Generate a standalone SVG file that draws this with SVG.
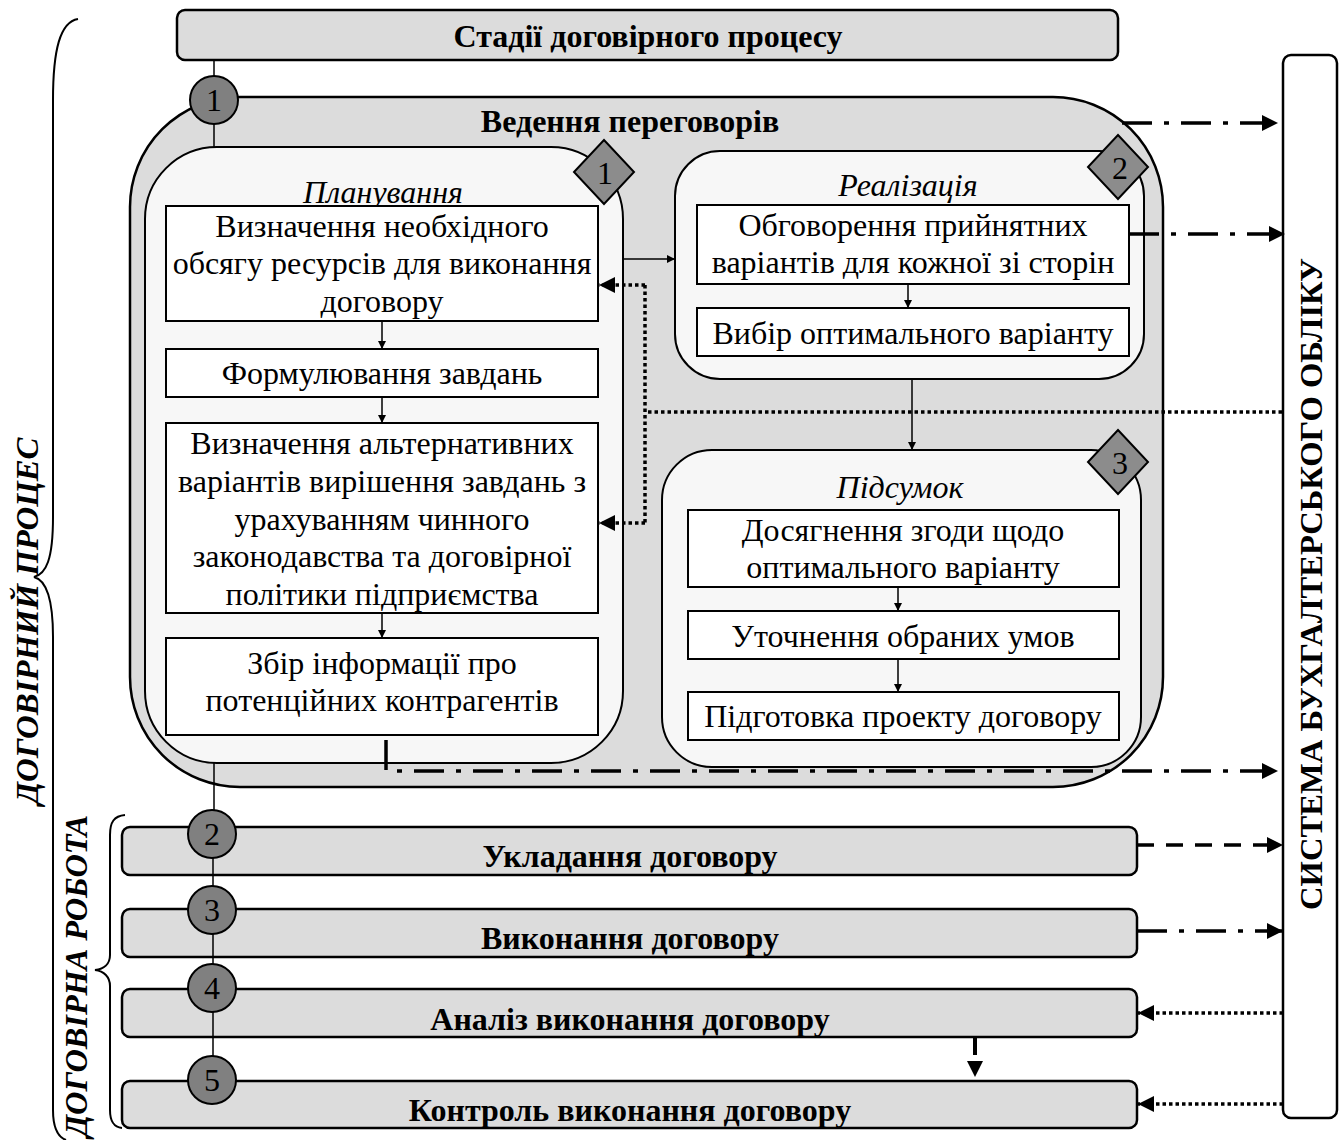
<svg xmlns="http://www.w3.org/2000/svg" width="1341" height="1140" viewBox="0 0 1341 1140">
<defs>
<marker id="ah" viewBox="0 0 16 16" refX="16" refY="8" markerWidth="16" markerHeight="16" markerUnits="userSpaceOnUse" orient="auto"><path d="M0,0 L16,8 L0,16 z" fill="#000"/></marker>
<marker id="as" viewBox="0 0 8 8" refX="8" refY="4" markerWidth="8" markerHeight="8" markerUnits="userSpaceOnUse" orient="auto"><path d="M0,0 L8,4 L0,8 z" fill="#000"/></marker>
</defs>
<style>
text{font-family:"Liberation Serif","Times New Roman",serif;fill:#000}
.b{font-weight:bold;font-size:32px;text-anchor:middle}
.t{font-size:32px;text-anchor:middle}
.h{font-size:32px;font-style:italic;text-anchor:middle}
.n{font-size:32px;text-anchor:middle}
.gray{fill:#dcdcdc;stroke:#000;stroke-width:2.5}
.panel{fill:#f7f7f7;stroke:#000;stroke-width:2}
.box{fill:#fff;stroke:#000;stroke-width:2}
.circ{fill:#808080;stroke:#000;stroke-width:2}
.dia{fill:#8c8c8c;stroke:#000;stroke-width:2}
.thin{stroke:#000;stroke-width:1.5;fill:none}
.dd{stroke:#000;stroke-width:3.5;fill:none;stroke-dasharray:30 12 5 12}
.da{stroke:#000;stroke-width:3.5;fill:none;stroke-dasharray:17 12}
.dt{stroke:#000;stroke-width:3.5;fill:none;stroke-dasharray:3.5 3}
.br{stroke:#000;stroke-width:2;fill:none}
</style>
<rect width="1341" height="1140" fill="#fff"/>

<g id="labels">
<path class="br" d="M78,19 C60,22 53,50 53,100 L53,517 C53,560 46,574 34,577 C46,580 53,600 53,637 L53,1110 C53,1128 58,1137 66,1140"/>
<text class="b" font-style="italic" transform="translate(38,621) rotate(-90)" font-size="32" textLength="367" lengthAdjust="spacingAndGlyphs">ДОГОВІРНИЙ ПРОЦЕС</text>
<path class="br" d="M125,815 C114,816 110,822 110,835 L110,955 C110,964 104,969 95,970 C104,971 110,977 110,986 L110,1110 C110,1122 114,1127 122,1128"/>
<text class="b" font-style="italic" transform="translate(87,976) rotate(-90)" font-size="32" textLength="322" lengthAdjust="spacingAndGlyphs">ДОГОВІРНА РОБОТА</text>
</g>

<g id="title">
<rect class="gray" x="177" y="10" width="941" height="50" rx="8"/>
<text class="b" x="648" y="47">Стадії договірного процесу</text>
</g>

<g id="system">
<rect x="1283" y="55" width="54" height="1063" rx="8" fill="#fff" stroke="#000" stroke-width="2.5"/>
<text class="b" transform="translate(1322,584) rotate(-90)" font-size="34" textLength="652" lengthAdjust="spacingAndGlyphs">СИСТЕМА БУХГАЛТЕРСЬКОГО ОБЛІКУ</text>
</g>

<g id="stage1">
<rect class="gray" x="130" y="97" width="1033" height="690" rx="110"/>
<text class="b" x="630" y="132">Ведення переговорів</text>
</g>

<g id="planning">
<rect class="panel" x="145" y="147" width="478" height="616" rx="72"/>
<text class="h" x="383" y="203">Планування</text>
<rect class="box" x="166" y="206" width="432" height="115"/>
<text class="t" x="382" y="237">Визначення необхідного</text>
<text class="t" x="382" y="274">обсягу ресурсів для виконання</text>
<text class="t" x="382" y="312">договору</text>
<rect class="box" x="166" y="349" width="432" height="48"/>
<text class="t" x="382" y="384">Формулювання завдань</text>
<rect class="box" x="166" y="423" width="432" height="190"/>
<text class="t" x="382" y="454">Визначення альтернативних</text>
<text class="t" x="382" y="492">варіантів вирішення завдань з</text>
<text class="t" x="382" y="530">урахуванням чинного</text>
<text class="t" x="382" y="567">законодавства та договірної</text>
<text class="t" x="382" y="605">політики підприємства</text>
<rect class="box" x="166" y="638" width="432" height="97"/>
<text class="t" x="382" y="674">Збір інформації про</text>
<text class="t" x="382" y="711">потенційних контрагентів</text>
<polygon class="dia" points="604,140 634,172 604,204 574,172"/>
<text class="n" x="605" y="184">1</text>
</g>

<g id="realization">
<rect class="panel" x="675" y="151" width="469" height="228" rx="45"/>
<text class="h" x="908" y="196">Реалізація</text>
<rect class="box" x="697" y="205" width="432" height="79"/>
<text class="t" x="913" y="236">Обговорення прийнятних</text>
<text class="t" x="913" y="273">варіантів для кожної зі сторін</text>
<rect class="box" x="697" y="308" width="432" height="48"/>
<text class="t" x="913" y="344">Вибір оптимального варіанту</text>
<polygon class="dia" points="1118,135 1148,167 1118,199 1088,167"/>
<text class="n" x="1120" y="179">2</text>
</g>

<g id="summary">
<rect class="panel" x="662" y="450" width="479" height="317" rx="50"/>
<text class="h" x="900" y="498">Підсумок</text>
<rect class="box" x="688" y="510" width="431" height="77"/>
<text class="t" x="903" y="541">Досягнення згоди щодо</text>
<text class="t" x="903" y="578">оптимального варіанту</text>
<rect class="box" x="688" y="611" width="431" height="48"/>
<text class="t" x="903" y="647">Уточнення обраних умов</text>
<rect class="box" x="688" y="692" width="431" height="48"/>
<text class="t" x="903" y="727">Підготовка проекту договору</text>
<polygon class="dia" points="1118,430 1148,462 1118,494 1088,462"/>
<text class="n" x="1120" y="474">3</text>
</g>

<g id="stage2"><rect class="gray" x="122" y="827" width="1015" height="48" rx="8"/><text class="b" x="630" y="867">Укладання договору</text></g>
<g id="stage3"><rect class="gray" x="122" y="909" width="1015" height="48" rx="8"/><text class="b" x="630" y="949">Виконання договору</text></g>
<g id="stage4"><rect class="gray" x="122" y="989" width="1015" height="48" rx="8"/><text class="b" x="630" y="1030">Аналіз виконання договору</text></g>
<g id="stage5"><rect class="gray" x="122" y="1081" width="1015" height="47" rx="8"/><text class="b" x="630" y="1121">Контроль виконання договору</text></g>

<g id="connectors">
<line class="thin" x1="214" y1="60" x2="214" y2="76"/>
<line class="thin" x1="214" y1="124" x2="214" y2="147"/>
<line class="thin" x1="214" y1="763" x2="214" y2="810"/>
<line class="thin" x1="213" y1="858" x2="213" y2="886"/>
<line class="thin" x1="213" y1="934" x2="213" y2="964"/>
<line class="thin" x1="213" y1="1012" x2="213" y2="1056"/>
<line class="thin" x1="382" y1="321" x2="382" y2="349" marker-end="url(#as)"/>
<line class="thin" x1="382" y1="397" x2="382" y2="423" marker-end="url(#as)"/>
<line class="thin" x1="382" y1="613" x2="382" y2="638" marker-end="url(#as)"/>
<line class="thin" x1="623" y1="259" x2="675" y2="259" marker-end="url(#as)"/>
<line class="thin" x1="908" y1="284" x2="908" y2="308" marker-end="url(#as)"/>
<line class="thin" x1="912" y1="379" x2="912" y2="450" marker-end="url(#as)"/>
<line class="thin" x1="898" y1="587" x2="898" y2="611" marker-end="url(#as)"/>
<line class="thin" x1="898" y1="659" x2="898" y2="692" marker-end="url(#as)"/>
<path class="dt" d="M1282,412 L645,412"/>
<path class="dt" d="M645,285 L645,523"/>
<line class="dt" x1="645" y1="285" x2="599" y2="285" marker-end="url(#ah)"/>
<line class="dt" x1="645" y1="523" x2="599" y2="523" marker-end="url(#ah)"/>
<line class="dd" x1="1122" y1="123" x2="1278" y2="123" marker-end="url(#ah)"/>
<line class="dd" x1="1129" y1="234" x2="1285" y2="234" marker-end="url(#ah)"/>
<path class="dd" d="M386,740 L386,771 L1278,771" marker-end="url(#ah)"/>
<line class="da" x1="1137" y1="845" x2="1283" y2="845" marker-end="url(#ah)"/>
<line class="dd" x1="1137" y1="931" x2="1283" y2="931" marker-end="url(#ah)"/>
<line class="dt" x1="1283" y1="1013" x2="1138" y2="1013" marker-end="url(#ah)"/>
<line class="dt" x1="1283" y1="1104" x2="1138" y2="1104" marker-end="url(#ah)"/>
<line x1="975" y1="1037" x2="975" y2="1055" stroke="#000" stroke-width="4"/>
<polygon points="967,1061 983,1061 975,1077" fill="#000"/>
</g>

<g id="circles">
<circle class="circ" cx="214" cy="100" r="24"/><text class="n" x="214" y="111">1</text>
<circle class="circ" cx="212" cy="834" r="24"/><text class="n" x="212" y="845">2</text>
<circle class="circ" cx="212" cy="910" r="24"/><text class="n" x="212" y="921">3</text>
<circle class="circ" cx="212" cy="988" r="24"/><text class="n" x="212" y="999">4</text>
<circle class="circ" cx="212" cy="1080" r="24"/><text class="n" x="212" y="1091">5</text>
</g>
</svg>
